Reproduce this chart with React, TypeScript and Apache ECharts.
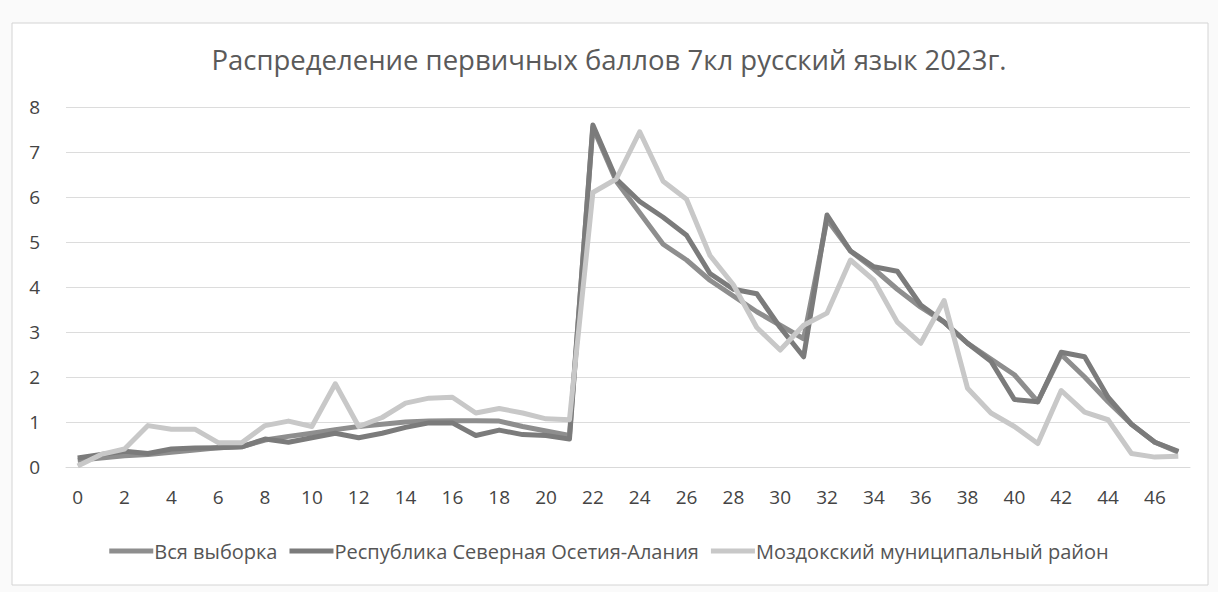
import React, { useEffect, useRef } from "react";
import * as echarts from "echarts";

const titleText = "Распределение первичных баллов 7кл русский язык 2023г.";
const seriesNames = ["Вся выборка", "Республика Северная Осетия-Алания", "Моздокский муниципальный район"];

const scores = Array.from({ length: 48 }, (_, i) => String(i));

const allSample = [
  0.15, 0.2, 0.25, 0.28, 0.33, 0.38, 0.43, 0.45, 0.6, 0.68,
  0.75, 0.83, 0.9, 0.95, 1.0, 1.02, 1.03, 1.03, 1.02, 0.9,
  0.8, 0.7, 7.55, 6.35, 5.65, 4.95, 4.6, 4.15, 3.8, 3.45,
  3.15, 2.85, 5.5, 4.8, 4.4, 3.95, 3.55, 3.22, 2.75, 2.4,
  2.05, 1.45, 2.5, 2.0, 1.45, 0.95, 0.55, 0.33,
];

const republic = [
  0.2, 0.28, 0.35, 0.3, 0.4, 0.42, 0.43, 0.45, 0.62, 0.55,
  0.65, 0.75, 0.65, 0.75, 0.88, 0.98, 0.98, 0.7, 0.82, 0.72,
  0.7, 0.62, 7.6, 6.4, 5.9, 5.55, 5.15, 4.3, 3.95, 3.85,
  3.1, 2.45, 5.6, 4.8, 4.45, 4.35, 3.6, 3.22, 2.75, 2.35,
  1.5, 1.45, 2.55, 2.45, 1.55, 0.95, 0.55, 0.35,
];

const mozdok = [
  0.02, 0.28, 0.4, 0.92, 0.84, 0.84, 0.54, 0.54, 0.92, 1.02,
  0.9, 1.85, 0.9, 1.1, 1.42, 1.53, 1.55, 1.2, 1.3, 1.2,
  1.07, 1.05, 6.1, 6.4, 7.45, 6.35, 5.95, 4.7, 4.05, 3.1,
  2.6, 3.15, 3.42, 4.6, 4.15, 3.22, 2.75, 3.7, 1.75, 1.2,
  0.9, 0.52, 1.7, 1.22, 1.05, 0.3, 0.22, 0.24,
];

const colors = ["#8e8e8e", "#7b7b7b", "#c8c8c8"];

export default function App() {
  const ref = useRef<HTMLDivElement>(null);

  useEffect(() => {
    if (!ref.current) return;
    const chart = echarts.init(ref.current, undefined, { renderer: "svg" });
    const font = "'Open Sans', 'Noto Sans', sans-serif";
    const datasets = [allSample, republic, mozdok];
    chart.setOption({
      animation: false,
      backgroundColor: "#fafafa",
      textStyle: { fontFamily: font },
      title: {
        text: titleText,
        left: "center",
        top: 40,
        textStyle: { fontFamily: font, fontSize: 27.5, fontWeight: "normal", color: "#5a5a5a" },
      },
      graphic: [
        {
          type: "rect",
          shape: { x: 12, y: 23, width: 1196, height: 562 },
          style: { fill: "#ffffff", stroke: "#d4d4d4", lineWidth: 1 },
          z: -10,
          silent: true,
        },
      ],
      legend: {
        data: seriesNames,
        bottom: 26,
        left: "center",
        itemWidth: 44,
        itemHeight: 5,
        itemGap: 12,
        icon: "rect",
        textStyle: { fontFamily: font, fontSize: 20, color: "#555555", padding: [0, 0, 0, -4] },
      },
      grid: { left: 66, right: 28, top: 107, bottom: 125 },
      xAxis: {
        type: "category",
        data: scores,
        boundaryGap: true,
        axisLine: { show: true, lineStyle: { color: "#d9d9d9" } },
        axisTick: { show: false },
        axisLabel: { interval: 1, fontSize: 19, color: "#444444", margin: 20, fontFamily: font },
      },
      yAxis: {
        type: "value",
        min: 0,
        max: 8,
        interval: 1,
        axisLine: { show: false },
        axisTick: { show: false },
        axisLabel: { fontSize: 19, color: "#444444", margin: 26, fontFamily: font },
        splitLine: { lineStyle: { color: "#dcdcdc", width: 1 } },
      },
      series: seriesNames.map((name, i) => ({
        name,
        type: "line",
        data: datasets[i],
        symbol: "none",
        color: colors[i],
        lineStyle: { width: 5, color: colors[i], join: "round" },
        z: 2 + i,
      })),
    });
    return () => chart.dispose();
  }, []);

  return (
    <div
      ref={ref}
      style={{ position: "absolute", left: 0, top: 0, width: 1218, height: 592 }}
    />
  );
}
